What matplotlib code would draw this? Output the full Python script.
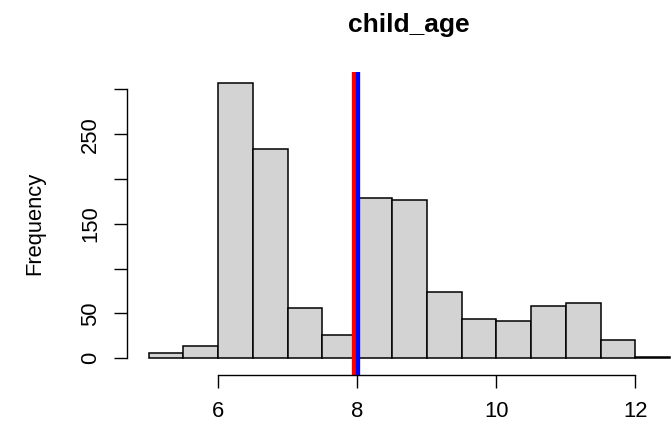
import numpy as np
import matplotlib
matplotlib.use("Agg")
import matplotlib.pyplot as plt

# Histogram of child_age, bins of width 0.5 (R hist style)
bin_edges = [5.0, 5.5, 6.0, 6.5, 7.0, 7.5, 8.0, 8.5, 9.0, 9.5, 10.0, 10.5, 11.0, 11.5, 12.0, 12.5]
counts = [6, 14, 307, 233, 56, 26, 179, 176, 74, 44, 42, 58, 62, 20, 1]
mean_age = 7.96
median_age = 8.015
x_ticks = [6, 8, 10, 12]
y_ticks = [0, 50, 100, 150, 200, 250, 300]
y_tick_labels = ["0", "50", "", "150", "", "250", ""]

W, H = 672, 425
plt.rcParams["font.family"] = ["Liberation Sans", "DejaVu Sans"]
plt.rcParams["font.size"] = 15.8

fig = plt.figure(figsize=(W / 100, H / 100), dpi=100)
# plot region in pixels: x 127..691 (cropped on the right), y 72..375
left, right, top, bottom = 127, 691, 72, 375
ax = fig.add_axes([left / W, 1 - bottom / H, (right - left) / W, (bottom - top) / H])

edges = np.array(bin_edges)
ax.bar(edges[:-1], counts, width=np.diff(edges), align="edge",
       color="#D3D3D3", edgecolor="black", linewidth=1.1)

ax.axvline(mean_age, color="red", linewidth=3.1)
ax.axvline(median_age, color="blue", linewidth=3.1)

ax.set_xlim(4.69, 12.8)
ax.set_ylim(-18.6, 319.3)

for side in ["top", "right"]:
    ax.spines[side].set_visible(False)
ax.spines["bottom"].set_bounds(6, 12)
ax.spines["left"].set_bounds(0, 300)
for side in ["bottom", "left"]:
    ax.spines[side].set_linewidth(1.0)

ax.set_xticks(x_ticks)
ax.set_xticklabels([str(t) for t in x_ticks])
ax.set_yticks(y_ticks)
ax.set_yticklabels(y_tick_labels, rotation=90, va="center")
ax.tick_params(axis="both", length=9.5, width=1.0, pad=9)

ax.set_ylabel("Frequency", labelpad=25)
fig.text((left + right) / 2 / W, 1 - 25 / H, "child_age",
         ha="center", va="center", fontweight="bold", fontsize=19)

fig.savefig("out.png", dpi=100)
